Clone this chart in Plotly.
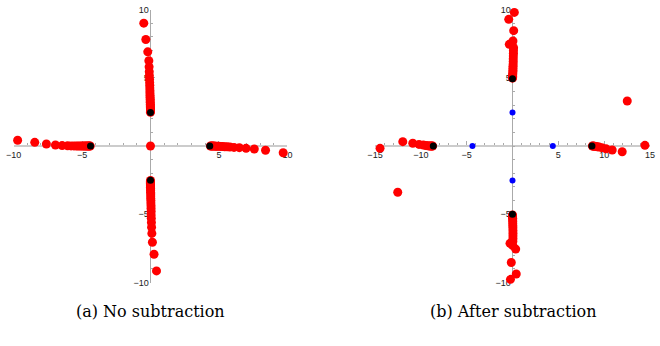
import plotly.graph_objects as go

# ---------------- data: panel (a) No subtraction ----------------
a_red_top_x = [-0.49, -0.34, -0.2, -0.12, -0.1, -0.09, -0.08, -0.07, -0.06, -0.05, -0.05, -0.04,
               -0.04, -0.03, -0.03, -0.02, -0.02, -0.02, -0.01, -0.01, -0.01, 0.0, 0.0, 0.0, 0.0, 0.0]
a_red_top_y = [9.0, 7.8, 6.9, 6.25, 5.8, 5.45, 5.15, 4.9, 4.65, 4.45, 4.25, 4.05, 3.88, 3.72,
               3.57, 3.43, 3.3, 3.18, 3.06, 2.95, 2.85, 2.75, 2.66, 2.58, 2.52, 2.47]
a_red_bot_x = [0.44, 0.26, 0.14, 0.1, 0.08, 0.07, 0.06, 0.05, 0.05, 0.04, 0.04, 0.03, 0.03,
               0.02, 0.02, 0.02, 0.01, 0.01, 0.01, 0.0, 0.0, 0.0, 0.0, 0.0, 0.0, 0.0]
a_red_bot_y = [-9.15, -7.93, -7.05, -6.4, -5.95, -5.6, -5.3, -5.05, -4.8, -4.58, -4.38, -4.18,
               -4.0, -3.83, -3.67, -3.52, -3.38, -3.25, -3.13, -3.02, -2.92, -2.82, -2.73, -2.65, -2.58, -2.53]
a_red_left_x = [-9.7, -8.45, -7.6, -6.94, -6.45, -6.05, -5.8, -5.6, -5.42, -5.27, -5.13, -5.0,
                -4.9, -4.8, -4.72, -4.64, -4.57, -4.5, -4.45, -4.4]
a_red_left_y = [0.42, 0.27, 0.15, 0.07, 0.03, 0.02, 0.01, 0.01, 0.0, 0.0, 0.0, 0.0, 0.0, 0.0,
                0.0, 0.0, 0.0, 0.0, 0.0, 0.0]
a_red_right_x = [9.69, 8.4, 7.58, 6.98, 6.49, 6.1, 5.8, 5.6, 5.42, 5.27, 5.13, 5.0, 4.9, 4.8,
                 4.72, 4.64, 4.57, 4.5, 4.44, 4.38]
a_red_right_y = [-0.49, -0.31, -0.22, -0.17, -0.12, -0.1, -0.08, -0.06, -0.05, -0.04, -0.03,
                 -0.02, -0.02, -0.01, -0.01, 0.0, 0.0, 0.0, 0.0, 0.0]
a_red_center_x = [0.0]
a_red_center_y = [0.0]
a_black_x = [0.0, 0.0, -4.38, 4.33]
a_black_y = [2.45, -2.5, 0.0, 0.0]

# ---------------- data: panel (b) After subtraction ----------------
b_red_top_x = [0.2, -0.41, 0.13, 0.05, -0.35, -0.05, 0.12, 0.1, 0.1, 0.09, 0.08, 0.08, 0.07,
               0.06, 0.05, 0.05, 0.04, 0.03, 0.02, 0.02, 0.01, 0.0]
b_red_top_y = [9.79, 9.28, 8.45, 7.69, 7.45, 7.42, 7.2, 7.0, 6.8, 6.6, 6.4, 6.2, 6.0, 5.85,
               5.7, 5.55, 5.42, 5.3, 5.2, 5.1, 5.02, 4.97]
b_red_bot_x = [0.0, 0.01, 0.01, 0.02, 0.02, 0.03, 0.03, 0.04, 0.04, 0.05, 0.05, 0.05, 0.05,
               0.04, -0.27, 0.03, 0.35, -0.13, 0.41, -0.22]
b_red_bot_y = [-5.05, -5.12, -5.2, -5.3, -5.42, -5.55, -5.7, -5.85, -6.0, -6.2, -6.4, -6.6,
               -6.8, -7.0, -7.13, -7.3, -7.55, -8.53, -9.38, -9.77]
b_red_left_x = [-14.45, -11.97, -10.88, -10.2, -9.73, -9.45, -9.25, -9.1, -8.97, -8.87, -8.78, -8.72]
b_red_left_y = [-0.17, 0.32, 0.2, 0.12, 0.07, 0.04, 0.02, 0.01, 0.0, 0.0, 0.0, 0.0]
b_red_right_x = [14.45, 11.97, 10.88, 10.2, 9.75, 9.45, 9.25, 9.1, 8.97, 8.87, 8.78, 8.72]
b_red_right_y = [0.05, -0.42, -0.29, -0.2, -0.12, -0.08, -0.05, -0.03, -0.02, -0.01, 0.0, 0.0]
b_red_out_x = [-12.52, 12.52]
b_red_out_y = [-3.39, 3.3]
b_black_x = [0.0, 0.0, -8.64, 8.67]
b_black_y = [4.93, -5.0, 0.0, 0.0]
b_blue_x = [0.0, 0.0, -4.37, 4.4]
b_blue_y = [2.45, -2.52, 0.0, 0.0]

# ---------------- ticks / captions ----------------
a_xticks = [-10, -5, 5, 10]
a_yticks = [-10, -5, 5, 10]
b_xticks = [-15, -10, -5, 5, 10, 15]
b_yticks = [-10, -5, 5, 10]
captions = ["(a) No subtraction", "(b) After subtraction"]

RED = "#ff0000"
fig = go.Figure()


def pts(x, y, color, size, xa, ya):
    fig.add_trace(go.Scatter(x=x, y=y, mode="markers", xaxis=xa, yaxis=ya,
                             marker=dict(color=color, size=size, line=dict(width=0)),
                             cliponaxis=False, hoverinfo="skip"))


for xs, ys in [(a_red_top_x, a_red_top_y), (a_red_bot_x, a_red_bot_y),
               (a_red_left_x, a_red_left_y), (a_red_right_x, a_red_right_y),
               (a_red_center_x, a_red_center_y)]:
    pts(xs, ys, RED, 9, "x", "y")
pts(a_black_x, a_black_y, "#000000", 7, "x", "y")

for xs, ys in [(b_red_top_x, b_red_top_y), (b_red_bot_x, b_red_bot_y),
               (b_red_left_x, b_red_left_y), (b_red_right_x, b_red_right_y),
               (b_red_out_x, b_red_out_y)]:
    pts(xs, ys, RED, 9, "x2", "y2")
pts(b_black_x, b_black_y, "#000000", 7, "x2", "y2")
pts(b_blue_x, b_blue_y, "#0000ff", 6, "x2", "y2")

ydom = [0.1835, 0.9725]
ypos = (ydom[0] + ydom[1]) / 2
xdom1 = [0.0205, 0.4355]
xdom2 = [0.5682, 0.9848]
tickfont = dict(family="Liberation Sans, Arial, sans-serif", size=9, color="#222222")


def xaxis(dom, rng, vals):
    return dict(domain=dom, range=rng, anchor="free", position=ypos, automargin=False,
                layer="below traces",
                showgrid=False, zeroline=False, showline=True,
                linecolor="#cccccc", linewidth=2,
                tickmode="array", tickvals=vals, ticktext=[str(v).replace("-", "\u2212") for v in vals],
                ticks="inside", ticklen=4, tickcolor="#aaaaaa", tickwidth=1,
                minor=dict(tickvals=list(range(int(rng[0]), int(rng[1]) + 1)), ticks="inside",
                           ticklen=2, tickcolor="#aaaaaa", tickwidth=1),
                tickfont=tickfont, fixedrange=True)


def yaxis(pos, rng, vals):
    return dict(domain=ydom, range=rng, anchor="free", position=pos, automargin=False,
                layer="below traces",
                showgrid=False, zeroline=False, showline=True,
                linecolor="#aaaaaa", linewidth=1,
                tickmode="array", tickvals=vals, ticktext=[str(v).replace("-", "\u2212") for v in vals],
                ticks="inside", ticklen=4, tickcolor="#aaaaaa", tickwidth=1,
                minor=dict(tickvals=list(range(int(rng[0]), int(rng[1]) + 1)), ticks="inside",
                           ticklen=2, tickcolor="#aaaaaa", tickwidth=1),
                tickfont=tickfont, fixedrange=True)


fig.update_layout(
    width=660, height=346, margin=dict(l=0, r=0, t=0, b=0, autoexpand=False),
    paper_bgcolor="white", plot_bgcolor="white", showlegend=False,
    xaxis=xaxis(xdom1, [-10, 10], a_xticks),
    yaxis=yaxis((xdom1[0] + xdom1[1]) / 2, [-10, 10], a_yticks),
    xaxis2=xaxis(xdom2, [-15, 15], b_xticks),
    yaxis2=yaxis((xdom2[0] + xdom2[1]) / 2, [-10, 10], b_yticks),
)

for cap, cx in zip(captions, [150.5 / 660, 512.5 / 660]):
    fig.add_annotation(text=cap, x=cx, y=(346 - 311) / 346, xref="paper", yref="paper",
                       showarrow=False, xanchor="center", yanchor="middle",
                       font=dict(family="DejaVu Serif, serif", size=16, color="#000000"))

fig.write_html("out.html")
